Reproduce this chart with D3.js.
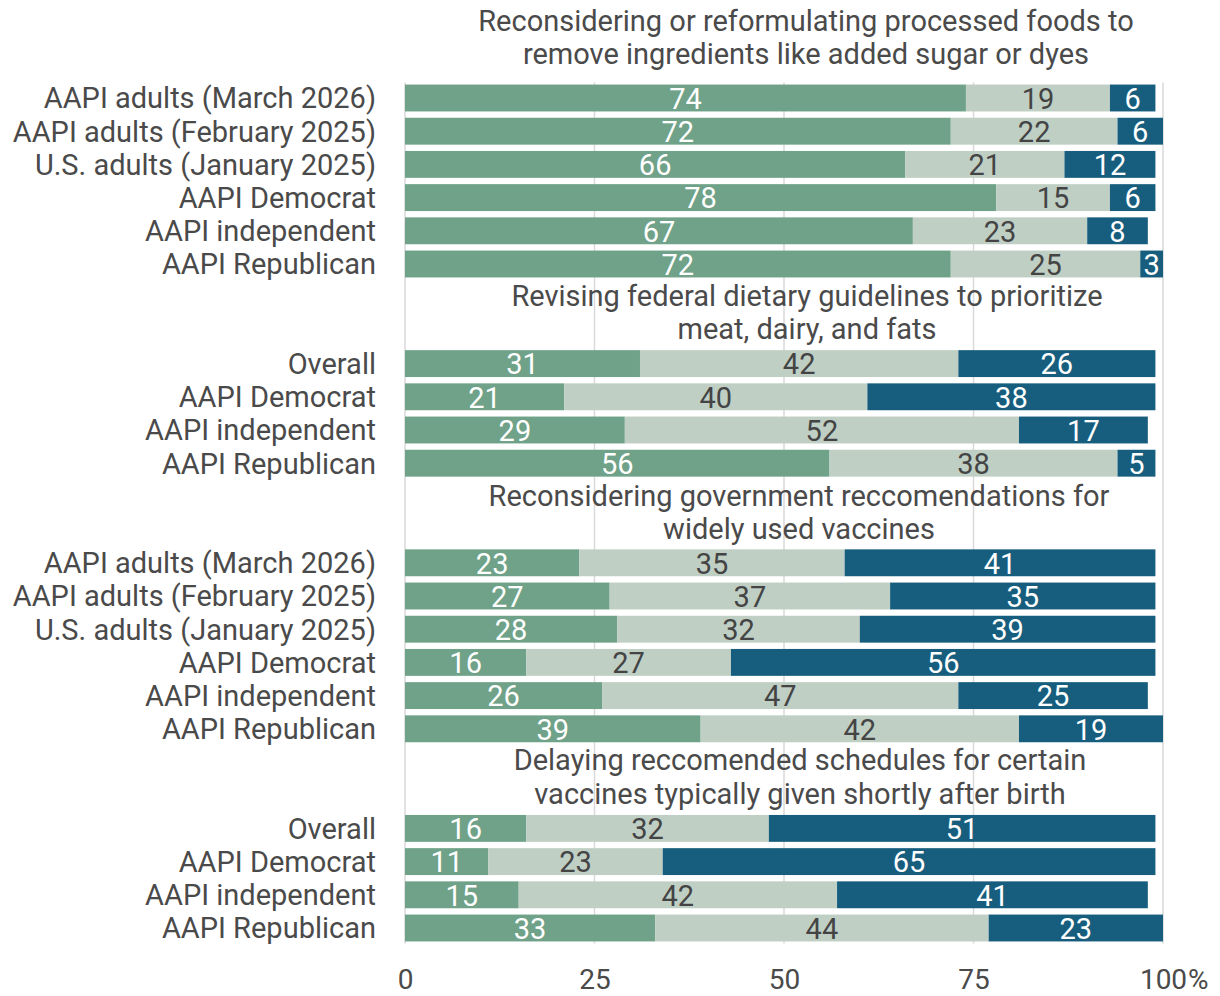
<!DOCTYPE html>
<html>
<head>
<meta charset="utf-8">
<script src="https://cdn.jsdelivr.net/npm/d3@7"></script>
<style>
  html, body { margin: 0; padding: 0; background: #fff; }
  svg { display: block; font-family: Roboto, "Noto Sans", sans-serif; }
</style>
</head>
<body>
<svg id="chart" width="1220" height="996"></svg>
<script>
// ---- data ----
const seriesNames = ["Support", "Neither", "Oppose"];

const groupTitles = [
  ["Reconsidering or reformulating processed foods to", "remove ingredients like added sugar or dyes"],
  ["Revising federal dietary guidelines to prioritize", "meat, dairy, and fats"],
  ["Reconsidering government reccomendations for", "widely used vaccines"],
  ["Delaying reccomended schedules for certain", "vaccines typically given shortly after birth"]
];

const group1Categories = ["AAPI adults (March 2026)", "AAPI adults (February 2025)", "U.S. adults (January 2025)", "AAPI Democrat", "AAPI independent", "AAPI Republican"];
const group1Support = [74, 72, 66, 78, 67, 72];
const group1Neither = [19, 22, 21, 15, 23, 25];
const group1Oppose  = [6, 6, 12, 6, 8, 3];

const group2Categories = ["Overall", "AAPI Democrat", "AAPI independent", "AAPI Republican"];
const group2Support = [31, 21, 29, 56];
const group2Neither = [42, 40, 52, 38];
const group2Oppose  = [26, 38, 17, 5];

const group3Categories = ["AAPI adults (March 2026)", "AAPI adults (February 2025)", "U.S. adults (January 2025)", "AAPI Democrat", "AAPI independent", "AAPI Republican"];
const group3Support = [23, 27, 28, 16, 26, 39];
const group3Neither = [35, 37, 32, 27, 47, 42];
const group3Oppose  = [41, 35, 39, 56, 25, 19];

const group4Categories = ["Overall", "AAPI Democrat", "AAPI independent", "AAPI Republican"];
const group4Support = [16, 11, 15, 33];
const group4Neither = [32, 23, 42, 44];
const group4Oppose  = [51, 65, 41, 23];

const xTicks = [0, 25, 50, 75, 100];

// ---- build rows ----
const groups = [
  {cats: group1Categories, s: group1Support, n: group1Neither, o: group1Oppose},
  {cats: group2Categories, s: group2Support, n: group2Neither, o: group2Oppose},
  {cats: group3Categories, s: group3Support, n: group3Neither, o: group3Oppose},
  {cats: group4Categories, s: group4Support, n: group4Neither, o: group4Oppose}
];

const rows = [];     // bar rows
const titles = [];   // title slots
let slot = 0;
groups.forEach((g, gi) => {
  titles.push({gi, slot});
  slot += 2;
  g.cats.forEach((c, i) => {
    rows.push({gi, slot, cat: c, vals: [g.s[i], g.n[i], g.o[i]]});
    slot += 1;
  });
});
const nSlots = slot;

// ---- layout ----
const svg = d3.select("#chart");
const colors = ["#6fa288", "#bfcfc4", "#175e7e"];
const labelColors = ["#ffffff", "#444444", "#ffffff"];
const textColor = "#4a4a4a";

const x = d3.scaleLinear().domain([0, 100]).range([405, 1163]);
const y = d3.scaleBand().domain(d3.range(nSlots)).range([15, 944.6]).paddingInner(0.19).paddingOuter(0.095);

const gridTop = y(rows[0].slot) - 2;
const gridBottom = y(rows[rows.length - 1].slot) + y.bandwidth() + 2;

// gridlines
svg.append("g").selectAll("line").data(xTicks).join("line")
  .attr("x1", d => x(d)).attr("x2", d => x(d))
  .attr("y1", gridTop).attr("y2", gridBottom)
  .attr("stroke", "#d9d9d9").attr("stroke-width", 1.5);

// bars
const rowG = svg.append("g").selectAll("g").data(rows).join("g");
rowG.each(function(r) {
  const g = d3.select(this);
  let cum = 0;
  const segs = r.vals.map((v, k) => { const s = {k, v, x0: cum, x1: cum + v}; cum += v; return s; });
  g.selectAll("rect").data(segs).join("rect")
    .attr("x", d => x(d.x0)).attr("width", d => x(d.x1) - x(d.x0))
    .attr("y", y(r.slot)).attr("height", y.bandwidth())
    .attr("fill", d => colors[d.k]);
  g.selectAll("text").data(segs).join("text")
    .attr("x", d => (x(d.x0) + x(d.x1)) / 2)
    .attr("y", y(r.slot) + y.bandwidth() / 2)
    .attr("text-anchor", "middle").attr("dy", "0.37em")
    .attr("font-size", 29)
    .attr("fill", d => labelColors[d.k])
    .text(d => d.v);
});

// category labels
svg.append("g").selectAll("text").data(rows).join("text")
  .attr("x", 376)
  .attr("y", r => y(r.slot) + y.bandwidth() / 2)
  .attr("text-anchor", "end").attr("dy", "0.36em")
  .attr("font-size", 29).attr("fill", textColor)
  .text(r => r.cat);

// titles
const titleCenters = [806, 807, 799, 800];
const titleShift = [-11, -2, -1, -2];
titles.forEach(t => {
  groupTitles[t.gi].forEach((line, li) => {
    svg.append("text")
      .attr("x", titleCenters[t.gi])
      .attr("y", y(t.slot + li) + y.bandwidth() / 2 + titleShift[t.gi])
      .attr("dy", "0.36em").attr("text-anchor", "middle")
      .attr("font-size", 29).attr("fill", textColor)
      .text(line);
  });
});

// x axis
const axis = d3.axisBottom(x).tickValues(xTicks).tickSize(0).tickPadding(0).tickFormat(d => d);
const ax = svg.append("g").attr("transform", `translate(0,${gridBottom})`).call(axis);
ax.select(".domain").remove();
ax.selectAll(".tick text")
  .attr("font-family", "Roboto, sans-serif").attr("font-size", 28).attr("fill", textColor)
  .attr("y", 989 - gridBottom).attr("dy", 0);
// percent sign after the last tick
const lastTick = ax.selectAll(".tick").filter(d => d === 100);
const lt = lastTick.select("text").node();
const half = lt.getComputedTextLength() / 2;
lastTick.append("text")
  .attr("x", half + 1).attr("y", 989 - gridBottom)
  .attr("font-family", "Roboto, sans-serif").attr("font-size", 28).attr("fill", textColor)
  .attr("text-anchor", "start")
  .text("%");
</script>
</body>
</html>
